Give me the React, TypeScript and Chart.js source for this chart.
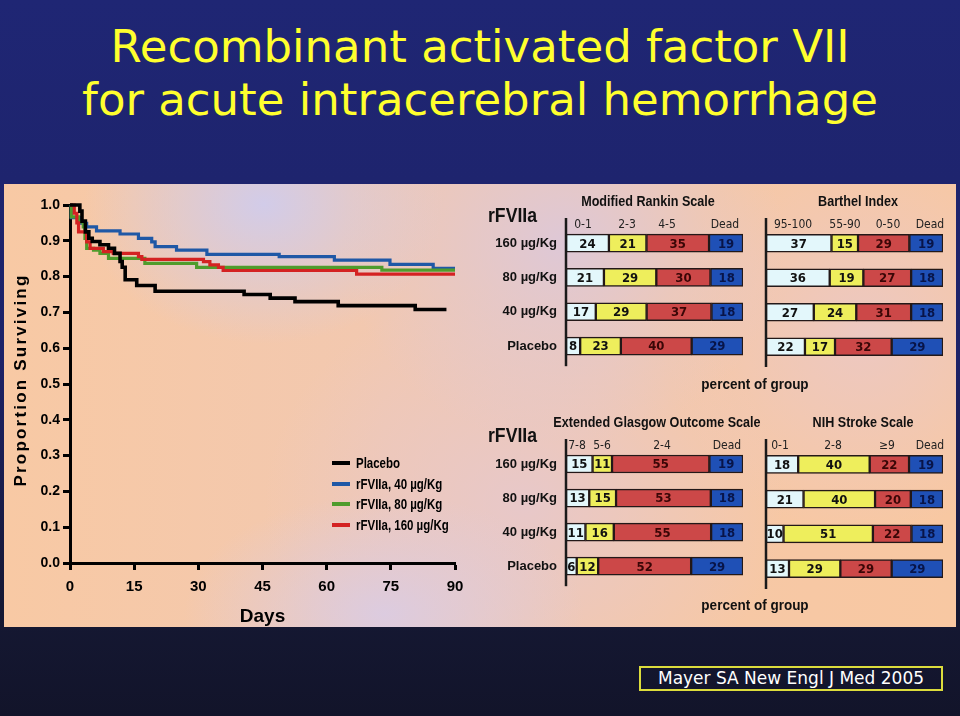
import React, { useEffect, useRef } from "react";
import { Chart, registerables } from "chart.js";
Chart.register(...registerables);

const NARROW = '"Liberation Sans Narrow", "Arial Narrow", "Liberation Sans", sans-serif';
const COND = '"DejaVu Sans Condensed", "DejaVu Sans", sans-serif';

// ---------- Kaplan-Meier survival data (day, proportion surviving) ----------
const seriesNames = ["Placebo", "rFVIIa,  40 µg/Kg", "rFVIIa,  80 µg/Kg", "rFVIIa,  160 µg/Kg"];
const seriesColors = ["#000000", "#1f58a6", "#4f9c2c", "#d42222"];

const placeboDays = [0, 2.3, 2.8, 3.6, 4.4, 5.2, 7.0, 9.0, 10.4, 11.7, 12.2, 12.9, 15.6, 19.9, 40.7, 46.8, 52.6, 62.7, 80.7, 88];
const placeboSurv = [1.0, 0.983, 0.955, 0.925, 0.907, 0.898, 0.889, 0.879, 0.865, 0.842, 0.826, 0.791, 0.775, 0.759, 0.75, 0.74, 0.73, 0.719, 0.708, 0.708];

const dose40Days = [0, 0.3, 2.3, 3.9, 6.2, 11.7, 16.0, 19.1, 19.9, 24.9, 32.0, 48.9, 61.8, 74.8, 84.9, 90];
const dose40Surv = [1.0, 0.965, 0.949, 0.939, 0.928, 0.919, 0.907, 0.897, 0.884, 0.874, 0.862, 0.856, 0.846, 0.834, 0.823, 0.823];

const dose80Days = [0, 0.3, 2.0, 3.1, 3.5, 3.9, 5.5, 7.0, 9.0, 17.5, 29.6, 72.9, 90];
const dose80Surv = [1.0, 0.967, 0.953, 0.939, 0.907, 0.879, 0.874, 0.865, 0.851, 0.837, 0.826, 0.818, 0.818];

const dose160Days = [0, 1.0, 1.6, 2.0, 3.9, 4.7, 7.8, 10.1, 16.0, 16.8, 31.2, 32.7, 34.7, 35.8, 67.0, 90];
const dose160Surv = [1.0, 0.977, 0.95, 0.925, 0.897, 0.879, 0.87, 0.865, 0.856, 0.848, 0.842, 0.833, 0.826, 0.817, 0.807, 0.807];

const xTicks = [0, 15, 30, 45, 60, 75, 90];

// ---------- Outcome tables (percent of group) ----------
const rowLabels = ["160 µg/Kg", "80 µg/Kg", "40 µg/Kg", "Placebo"];

const rankinCats = ["0-1", "2-3", "4-5", "Dead"];
const rankin01 = [24, 21, 17, 8];
const rankin23 = [21, 29, 29, 23];
const rankin45 = [35, 30, 37, 40];
const rankinDead = [19, 18, 18, 29];

const barthelCats = ["95-100", "55-90", "0-50", "Dead"];
const barthel95 = [37, 36, 27, 22];
const barthel55 = [15, 19, 24, 17];
const barthel0 = [29, 27, 31, 32];
const barthelDead = [19, 18, 18, 29];

const glasgowCats = ["7-8", "5-6", "2-4", "Dead"];
const glasgow78 = [15, 13, 11, 6];
const glasgow56 = [11, 15, 16, 12];
const glasgow24 = [55, 53, 55, 52];
const glasgowDead = [19, 18, 18, 29];

const nihCats = ["0-1", "2-8", "≥9", "Dead"];
const nih01 = [18, 21, 10, 13];
const nih28 = [40, 40, 51, 29];
const nih9 = [22, 20, 22, 29];
const nihDead = [19, 18, 18, 29];

const segColors = ["#e3f7fb", "#eeee5c", "#cc4848", "#1f50b6"];
const segTextColors = ["#111111", "#111111", "#3a0606", "#081448"];

const yTitlePlugin = {
  id: "yTitle",
  afterDraw(chart: any) {
    const { ctx, chartArea } = chart;
    ctx.save();
    ctx.translate(21, (chartArea.top + chartArea.bottom) / 2 - 4);
    ctx.rotate(-Math.PI / 2);
    ctx.font = 'bold 17px "Liberation Sans", sans-serif';
    (ctx as any).letterSpacing = "2.2px";
    ctx.fillStyle = "#000";
    ctx.textAlign = "center";
    ctx.textBaseline = "middle";
    ctx.fillText("Proportion Surviving", 0, 0);
    ctx.restore();
  },
};

function SurvivalChart() {
  const ref = useRef<HTMLCanvasElement>(null);
  useEffect(() => {
    const mk = (d: number[], s: number[]) => d.map((x, i) => ({ x, y: s[i] }));
    const sets = [
      [placeboDays, placeboSurv],
      [dose40Days, dose40Surv],
      [dose80Days, dose80Surv],
      [dose160Days, dose160Surv],
    ];
    const tickFont = { family: NARROW, size: 14, weight: "bold" as const };
    const chart = new Chart(ref.current!, {
      type: "line",
      data: {
        datasets: sets.map((s, i) => ({
          label: seriesNames[i],
          data: mk(s[0], s[1]),
          borderColor: seriesColors[i],
          backgroundColor: seriesColors[i],
          borderWidth: i === 0 ? 3.6 : 3.2,
          pointRadius: 0,
          stepped: true,
          fill: false,
          clip: false as any,
          order: i === 0 ? 0 : 4 - i,
        })),
      },
      options: {
        animation: false,
        responsive: false,
        layout: { padding: { top: 21, right: 25, left: 0, bottom: 0 } },
        plugins: { legend: { display: false }, tooltip: { enabled: false } },
        scales: {
          x: {
            type: "linear",
            min: 0,
            max: 90,
            afterBuildTicks: (s: any) => {
              s.ticks = xTicks.map((v) => ({ value: v }));
            },
            ticks: { font: { ...tickFont, size: 15 }, color: "#000", padding: 8 },
            grid: { drawOnChartArea: false, drawTicks: true, tickLength: 7, tickWidth: 3, tickColor: "#000" },
            border: { color: "#000", width: 3 },
            title: {
              display: true,
              text: "Days",
              color: "#000",
              font: { family: NARROW, size: 19, weight: "bold" },
              padding: { top: 6, bottom: 0 },
            },
            afterFit: (s: any) => {
              s.height = 65;
            },
          },
          y: {
            type: "linear",
            min: 0,
            max: 1,
            ticks: {
              stepSize: 0.1,
              font: tickFont,
              color: "#000",
              padding: 3,
              callback: (v: any) => Number(v).toFixed(1),
            },
            grid: { drawOnChartArea: false, drawTicks: true, tickLength: 7, tickWidth: 3, tickColor: "#000" },
            border: { color: "#000", width: 3 },
            afterFit: (s: any) => {
              s.width = 70;
            },
          },
        },
      },
      plugins: [yTitlePlugin],
    });
    return () => chart.destroy();
  }, []);
  return (
    <canvas
      ref={ref}
      width={480}
      height={444}
      style={{ position: "absolute", left: 0, top: 184, width: 480, height: 444 }}
    />
  );
}

const barLabelPlugin = {
  id: "barLabels",
  afterDatasetsDraw(chart: any) {
    const { ctx, chartArea } = chart;
    ctx.save();
    ctx.strokeStyle = "#1a1a1a";
    ctx.lineWidth = 2.5;
    ctx.beginPath();
    ctx.moveTo(chartArea.left, chartArea.top - 8);
    ctx.lineTo(chartArea.left, chartArea.bottom + 3);
    ctx.stroke();
    ctx.font = `bold 13px ${COND}`;
    ctx.textAlign = "center";
    ctx.textBaseline = "middle";
    chart.data.datasets.forEach((ds: any, i: number) => {
      const meta = chart.getDatasetMeta(i);
      meta.data.forEach((el: any, j: number) => {
        const p = el.getProps(["x", "y", "base"], true);
        ctx.fillStyle = segTextColors[i];
        ctx.fillText(String(ds.rawValues[j]), (p.x + p.base) / 2, p.y + 1);
      });
    });
    ctx.restore();
  },
};

function OutcomeBars(props: {
  series: number[][];
  names: string[];
  left: number;
  top: number;
  width: number;
  height: number;
  yWidth: number;
  showLabels: boolean;
  padTop: number;
  padBottom: number;
  padRight: number;
}) {
  const ref = useRef<HTMLCanvasElement>(null);
  useEffect(() => {
    const { series } = props;
    const sums = rowLabels.map((_, j) => series.reduce((a, s) => a + s[j], 0));
    const chart = new Chart(ref.current!, {
      type: "bar",
      data: {
        labels: rowLabels,
        datasets: series.map((s, i) => ({
          label: props.names[i],
          data: s.map((v, j) => (v / sums[j]) * 100),
          rawValues: s,
          backgroundColor: segColors[i],
          borderColor: "#231818",
          borderWidth: 1.5,
          borderSkipped: false,
          barThickness: 18,
        })) as any,
      },
      options: {
        indexAxis: "y",
        animation: false,
        responsive: false,
        layout: { padding: { top: props.padTop, bottom: props.padBottom, right: props.padRight, left: 0 } },
        plugins: { legend: { display: false }, tooltip: { enabled: false } },
        scales: {
          x: { stacked: true, min: 0, max: 100, display: false },
          y: {
            stacked: true,
            grid: { display: false, drawTicks: false },
            border: { display: false },
            ticks: {
              display: props.showLabels,
              font: { family: NARROW, size: 13, weight: "bold" },
              color: "#111",
              padding: 9,
            },
            afterFit: (s: any) => {
              s.width = props.yWidth;
            },
          },
        },
      },
      plugins: [barLabelPlugin],
    });
    return () => chart.destroy();
  }, []);
  return (
    <canvas
      ref={ref}
      width={props.width}
      height={props.height}
      style={{ position: "absolute", left: props.left, top: props.top, width: props.width, height: props.height }}
    />
  );
}

function T(p: {
  x: number;
  y: number;
  text: string;
  size: number;
  font?: string;
  weight?: string;
  color?: string;
  align?: "left" | "center" | "right";
  sx?: number;
}) {
  const align = p.align || "center";
  const tx = align === "center" ? "-50%" : align === "right" ? "-100%" : "0";
  const sx = p.sx ?? 1;
  return (
    <div
      style={{
        position: "absolute",
        left: p.x,
        top: p.y,
        transform: `translate(${tx}, -50%) scaleX(${sx})`,
        transformOrigin: align === "center" ? "50% 50%" : align === "right" ? "100% 50%" : "0% 50%",
        whiteSpace: "nowrap",
        fontFamily: p.font || NARROW,
        fontSize: p.size,
        fontWeight: (p.weight || "bold") as any,
        color: p.color || "#111",
        lineHeight: 1.2,
      }}
    >
      {p.text}
    </div>
  );
}

export default function App() {
  const panelBg =
    "radial-gradient(ellipse 180px 140px at 260px 20px, rgba(208,204,236,0.95), rgba(208,204,236,0) 100%)," +
    "radial-gradient(ellipse 200px 120px at 380px 430px, rgba(218,204,228,0.9), rgba(218,204,228,0) 100%)," +
    "radial-gradient(ellipse 220px 200px at 560px 60px, rgba(216,200,226,0.8), rgba(216,200,226,0) 100%)," +
    "radial-gradient(ellipse 260px 220px at 520px 320px, rgba(226,200,214,0.7), rgba(226,200,214,0) 100%)," +
    "radial-gradient(ellipse 200px 200px at 860px 150px, rgba(232,200,206,0.7), rgba(232,200,206,0) 100%)," +
    "linear-gradient(90deg, #f8c9a4 0%, #f2c8b0 40%, #f6c8a6 70%, #f8c8a2 100%)";
  const headerFont = COND;
  const NX = 0.84;
  return (
    <div
      style={{
        position: "absolute",
        left: 0,
        top: 0,
        width: 960,
        height: 716,
        overflow: "hidden",
        background: "linear-gradient(180deg, #1f2674 0%, #1d2268 50%, #151833 85%, #12142a 100%)",
      }}
    >
      {/* Title */}
      <div
        style={{
          position: "absolute",
          left: 0,
          width: 960,
          top: 22,
          textAlign: "center",
          color: "#ffff2e",
          fontFamily: '"DejaVu Sans", sans-serif',
          fontSize: 45,
          lineHeight: "50px",
          whiteSpace: "nowrap",
        }}
      >
        Recombinant activated factor VII
      </div>
      <div
        style={{
          position: "absolute",
          left: 0,
          width: 960,
          top: 75,
          textAlign: "center",
          color: "#ffff2e",
          fontFamily: '"DejaVu Sans", sans-serif',
          fontSize: 45,
          lineHeight: "50px",
          whiteSpace: "nowrap",
        }}
      >
        for acute intracerebral hemorrhage
      </div>

      {/* Light panel */}
      <div style={{ position: "absolute", left: 4, top: 184, width: 952, height: 443, background: panelBg }} />

      <SurvivalChart />

      {/* Legend */}
      {seriesNames.map((n, i) => (
        <React.Fragment key={n}>
          <div
            style={{
              position: "absolute",
              left: 332,
              top: 461 + i * 20.5,
              width: 18,
              height: 4,
              background: seriesColors[i],
            }}
          />
          <T x={356} y={463 + i * 20.5} text={n} size={14} align="left" color="#000" sx={0.82} />
        </React.Fragment>
      ))}

      {/* Outcome tables */}
      <OutcomeBars
        series={[rankin01, rankin23, rankin45, rankinDead]}
        names={rankinCats}
        left={480}
        top={200}
        width={270}
        height={180}
        yWidth={86}
        showLabels={true}
        padTop={26}
        padBottom={16}
        padRight={7}
      />
      <OutcomeBars
        series={[barthel95, barthel55, barthel0, barthelDead]}
        names={barthelCats}
        left={750}
        top={200}
        width={206}
        height={180}
        yWidth={16}
        showLabels={false}
        padTop={26}
        padBottom={16}
        padRight={13}
      />
      <OutcomeBars
        series={[glasgow78, glasgow56, glasgow24, glasgowDead]}
        names={glasgowCats}
        left={480}
        top={420}
        width={270}
        height={180}
        yWidth={86}
        showLabels={true}
        padTop={27}
        padBottom={14}
        padRight={7}
      />
      <OutcomeBars
        series={[nih01, nih28, nih9, nihDead]}
        names={nihCats}
        left={750}
        top={420}
        width={206}
        height={180}
        yWidth={16}
        showLabels={false}
        padTop={27}
        padBottom={14}
        padRight={13}
      />

      {/* Table titles and headers */}
      <T x={488} y={215} text="rFVIIa" size={21} align="left" sx={NX} />
      <T x={488} y={435} text="rFVIIa" size={21} align="left" sx={NX} />
      <T x={648} y={201} text="Modified Rankin Scale" size={15} sx={NX} />
      <T x={858} y={201} text="Barthel Index" size={15} sx={NX} />
      <T x={657} y={422} text="Extended Glasgow Outcome Scale" size={15} sx={NX} />
      <T x={863} y={422} text="NIH Stroke Scale" size={15} sx={NX} />

      {[583, 627, 667, 725].map((x, i) => (
        <T key={"rk" + i} x={x} y={224} text={rankinCats[i]} size={12} font={headerFont} weight="normal" color="#222" />
      ))}
      {[793, 845, 888, 930].map((x, i) => (
        <T key={"bt" + i} x={x} y={224} text={barthelCats[i]} size={12} font={headerFont} weight="normal" color="#222" />
      ))}
      {[577, 602, 662, 727].map((x, i) => (
        <T key={"gl" + i} x={x} y={445} text={glasgowCats[i]} size={12} font={headerFont} weight="normal" color="#222" />
      ))}
      {[780, 833, 887, 930].map((x, i) => (
        <T key={"nh" + i} x={x} y={445} text={nihCats[i]} size={12} font={headerFont} weight="normal" color="#222" />
      ))}

      <T x={755} y={384} text="percent of group" size={15} sx={0.9} />
      <T x={755} y={605} text="percent of group" size={15} sx={0.9} />

      {/* Citation */}
      <div
        style={{
          position: "absolute",
          left: 639,
          top: 666,
          width: 300,
          height: 21,
          border: "2px solid #dcdc3c",
          color: "#ffffff",
          fontFamily: '"DejaVu Sans", sans-serif',
          fontSize: 17,
          lineHeight: "21px",
          textAlign: "center",
          whiteSpace: "nowrap",
        }}
      >
        Mayer SA New Engl J Med 2005
      </div>
    </div>
  );
}
